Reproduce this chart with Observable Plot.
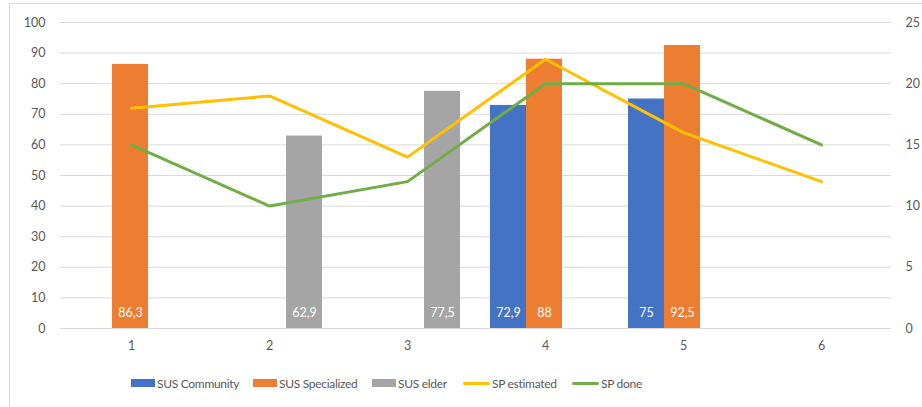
<!DOCTYPE html>
<html><head><meta charset="utf-8">
<script src="https://cdn.jsdelivr.net/npm/d3@7"></script>
<script src="https://cdn.jsdelivr.net/npm/@observablehq/plot@0.6"></script>
<style>
body{margin:0;background:#fff;font-family:Lato,sans-serif;}
#wrap{position:relative;width:922px;height:407px;overflow:hidden;background:#fff;}
#frame{position:absolute;left:9px;top:3px;width:960px;height:440px;border:1px solid #d9d9d9;box-sizing:border-box;}
#chart{position:absolute;left:0;top:0;}
#legend{position:absolute;top:375px;left:0;width:922px;height:16px;font-size:12px;letter-spacing:-0.3px;color:#595959;}
.item{position:absolute;top:0;height:16px;display:flex;align-items:center;white-space:nowrap;}
.sw{display:inline-block;width:24px;height:8px;margin-right:2px;}
.ln{display:inline-block;width:27px;height:3px;margin-right:2px;border-radius:1.5px;}
</style></head>
<body>
<div id="wrap"><div id="frame"></div><div id="chart"></div><div id="legend"></div></div>
<script>
const categories = ["1","2","3","4","5","6"];
const susCommunity = [null,null,null,72.9,75,null];
const susSpecialized = [86.3,null,null,88,92.5,null];
const susElder = [null,62.9,77.5,null,null,null];
const spEstimated = [18,19,14,22,16,12];
const spDone = [15,10,12,20,20,15];
const leftTicks = [0,10,20,30,40,50,60,70,80,90,100];
const rightTicks = [0,5,10,15,20,25];

const colors = {community:"#4472C4", specialized:"#ED7D31", elder:"#A5A5A5", estimated:"#FFC000", done:"#70AD47"};
const ratio = 100 / 25; // right axis -> left axis units

const rows = arr => categories.map((c,i)=>({cat:c, v:arr[i]})).filter(d=>d.v!=null);
const fmt = v => String(v).replace(".", ",");
const BW = 36;

const barSeries = [
  {data: rows(susCommunity), fill: colors.community, dx: -BW},
  {data: rows(susSpecialized), fill: colors.specialized, dx: 0},
  {data: rows(susElder), fill: colors.elder, dx: BW}
];

const marks = [
  Plot.ruleY(leftTicks, {stroke:"#d9d9d9", strokeWidth:1})
];
for (const s of barSeries) {
  marks.push(Plot.barY(s.data, {x:"cat", y:"v", fill:s.fill, dx:s.dx - 1}));
}
for (const s of barSeries) {
  marks.push(Plot.text(s.data, {x:"cat", y:0, text:d=>fmt(d.v), fill:"white", dx:s.dx - 1, dy:-16, fontSize:12.5}));
}
marks.push(
  Plot.lineY(rows(spEstimated), {x:"cat", y:d=>d.v*ratio, stroke:colors.estimated, strokeWidth:3, strokeLinecap:"round", strokeLinejoin:"round"}),
  Plot.lineY(rows(spDone), {x:"cat", y:d=>d.v*ratio, stroke:colors.done, strokeWidth:3, strokeLinecap:"round", strokeLinejoin:"round"}),
  Plot.axisY({anchor:"left", ticks:leftTicks, tickSize:0, tickPadding:15, label:null, fontSize:12.5}),
  Plot.axisY({anchor:"right", ticks:rightTicks.map(v=>v*ratio), tickFormat:d=>d/ratio, tickSize:0, tickPadding:14, label:null, fontSize:12.5}),
  Plot.axisX({tickSize:0, tickPadding:13, label:null, fontSize:12.5})
);

const chart = Plot.plot({
  width: 922,
  height: 365,
  marginLeft: 60,
  marginRight: 31,
  marginTop: 22,
  marginBottom: 37,
  x: {type:"band", domain: categories, paddingInner: 0.74, paddingOuter: 0.37},
  y: {domain:[0,100]},
  style: {fontFamily:"Lato, sans-serif", fontSize:"12.5px", color:"#595959", background:"transparent"},
  marks
});
document.getElementById("chart").appendChild(chart);

const legendItems = [
  {label:"SUS Community", color:colors.community, kind:"sw"},
  {label:"SUS Specialized", color:colors.specialized, kind:"sw"},
  {label:"SUS elder", color:colors.elder, kind:"sw"},
  {label:"SP estimated", color:colors.estimated, kind:"ln"},
  {label:"SP done", color:colors.done, kind:"ln"}
];
const legendLefts = [131, 253, 372, 463, 572];
const legend = document.getElementById("legend");
legendItems.forEach((it, i) => {
  const el = document.createElement("span");
  el.className = "item";
  el.style.left = legendLefts[i] + "px";
  el.innerHTML = `<span class="${it.kind}" style="background:${it.color}"></span>${it.label}`;
  legend.appendChild(el);
});
</script>
</body></html>
